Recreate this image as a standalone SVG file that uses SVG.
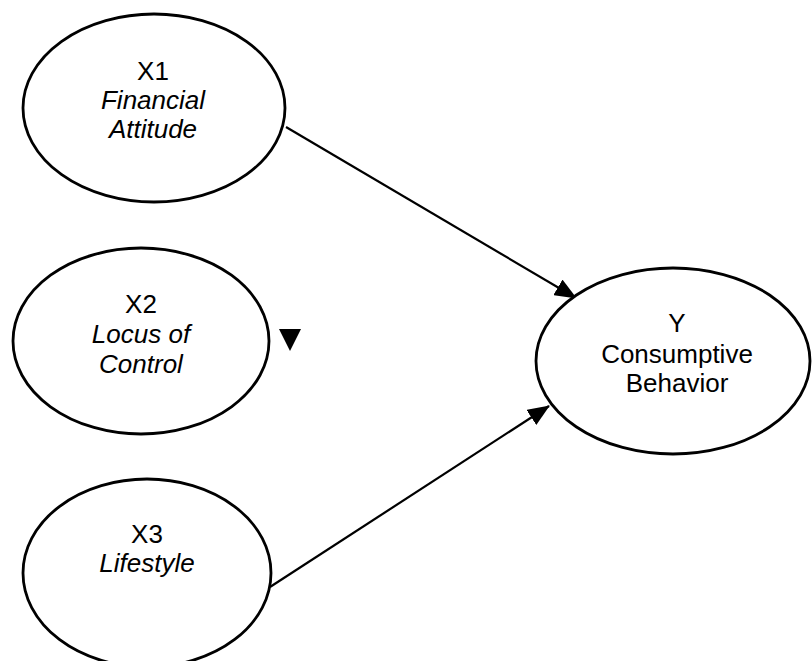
<svg xmlns="http://www.w3.org/2000/svg" width="812" height="661" viewBox="0 0 812 661">
  <style>
    .node { fill: #ffffff; stroke: #000000; stroke-width: 2.8; }
    .edge { fill: none; stroke: #000000; stroke-width: 2.2; }
    text { font-family: "Liberation Sans", Arial, sans-serif; font-size: 26px; fill: #000000; text-anchor: middle; }
    .it { font-style: italic; }
  </style>
  <defs>
    <marker id="arrow" viewBox="0 0 22 18" refX="21" refY="9" markerWidth="22" markerHeight="18" markerUnits="userSpaceOnUse" orient="auto">
      <path d="M0,0 L22,9 L0,18 Z" fill="#000000"/>
    </marker>
  </defs>
  <rect x="0" y="0" width="812" height="661" fill="#ffffff"/>
  <g id="connectors">
    <line class="edge" x1="286" y1="127" x2="576" y2="298" marker-end="url(#arrow)"/>
    <line class="edge" x1="270" y1="587" x2="549" y2="406" marker-end="url(#arrow)"/>
  </g>
  <g id="x1">
    <ellipse class="node" cx="154" cy="108" rx="131" ry="94"/>
    <text x="153" y="80">X1</text>
    <text class="it" x="153" y="109">Financial</text>
    <text class="it" x="153" y="138">Attitude</text>
  </g>
  <g id="x2">
    <ellipse class="node" cx="141" cy="341" rx="128" ry="93"/>
    <text x="141" y="313">X2</text>
    <text class="it" x="141" y="343">Locus of</text>
    <text class="it" x="141" y="373">Control</text>
  </g>
  <g id="x3">
    <ellipse class="node" cx="147" cy="573" rx="124" ry="94"/>
    <text x="147" y="543">X3</text>
    <text class="it" x="147" y="572">Lifestyle</text>
  </g>
  <g id="y">
    <ellipse class="node" cx="673" cy="361" rx="137" ry="93"/>
    <text x="677" y="332">Y</text>
    <text x="677" y="363">Consumptive</text>
    <text x="677" y="392">Behavior</text>
  </g>
  <polygon points="279,329 301,329 290,351" fill="#000000"/>
</svg>
